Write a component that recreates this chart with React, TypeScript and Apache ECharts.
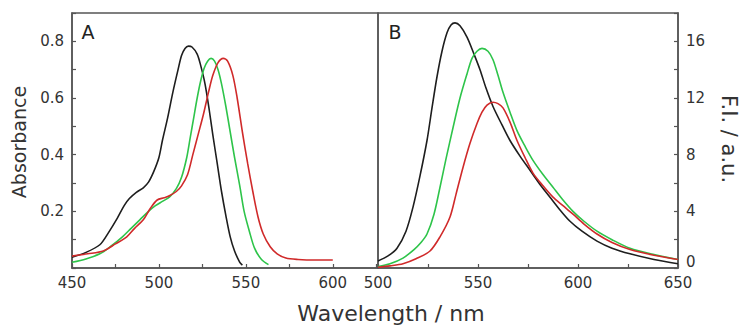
import React, { useEffect, useRef } from "react";
import * as echarts from "echarts";

// Panel A: absorbance
const absBlackX = [450, 458, 466, 471, 476, 480, 483, 487, 491, 494, 497, 500, 502, 505, 508, 511, 513, 515, 517, 519, 522, 524, 526.5, 529, 531, 533.5, 536, 538.5, 541, 543.5, 546.5, 548];
const absBlackY = [0.038, 0.055, 0.082, 0.125, 0.175, 0.22, 0.245, 0.267, 0.283, 0.303, 0.34, 0.39, 0.45, 0.53, 0.62, 0.7, 0.75, 0.775, 0.783, 0.78, 0.755, 0.715, 0.65, 0.555, 0.47, 0.37, 0.27, 0.185, 0.11, 0.06, 0.02, 0.01];
const absGreenX = [450, 458, 466, 472, 479, 484, 489, 494, 498, 502, 506, 510, 513, 516, 518, 520, 522, 524, 526, 528, 530, 532, 534, 536, 538.5, 541, 543.5, 546.5, 549, 552, 555, 559, 563];
const absGreenY = [0.02, 0.032, 0.05, 0.075, 0.11, 0.14, 0.17, 0.2, 0.22, 0.235, 0.25, 0.28, 0.32, 0.39, 0.46, 0.53, 0.6, 0.66, 0.705, 0.73, 0.74, 0.73, 0.7, 0.65, 0.57, 0.48, 0.39, 0.29, 0.2, 0.13, 0.07, 0.03, 0.012];
const absRedX = [450, 459, 468, 475, 481.5, 486, 491, 495, 499, 503, 506, 510, 513, 516.5, 519.5, 522.5, 525.5, 528.5, 531, 534, 537, 539.5, 542.5, 545, 548, 551, 554, 557, 560, 564, 568, 573, 580, 590, 600];
const absRedY = [0.042, 0.05, 0.06, 0.085, 0.11, 0.14, 0.17, 0.21, 0.24, 0.248, 0.255, 0.27, 0.29, 0.33, 0.4, 0.47, 0.54, 0.62, 0.68, 0.725, 0.74, 0.73, 0.68, 0.6, 0.48, 0.37, 0.27, 0.18, 0.12, 0.075, 0.05, 0.035, 0.03, 0.028, 0.028];

// Panel B: fluorescence intensity
const flBlackX = [500, 505, 509.5, 514, 517.5, 521, 524.5, 527, 529.5, 532, 534.5, 536.5, 538.5, 541, 544.5, 548, 551, 554, 557.5, 562, 566, 571, 576, 581, 586, 591, 596, 602, 609.5, 617, 626, 638, 650];
const flBlackY = [0.5, 0.85, 1.4, 2.6, 4.3, 6.5, 9.0, 11.3, 13.5, 15.3, 16.6, 17.15, 17.3, 17.1, 16.3, 15.1, 14.0, 12.7, 11.4, 10.1, 9.0, 7.9, 6.9, 5.9, 5.0, 4.1, 3.3, 2.6, 1.9, 1.4, 1.0, 0.6, 0.3];
const flGreenX = [500, 506, 512.5, 518, 521.5, 524.5, 528, 531, 534, 537.5, 541, 544.5, 547, 549.5, 552, 555, 557.5, 560, 562.5, 566, 569.5, 573.5, 577.5, 582.5, 587.5, 592.5, 597.5, 603, 609.5, 617, 626, 638, 650];
const flGreenY = [0.1, 0.3, 0.7, 1.3, 1.8, 2.4, 3.8, 5.7, 7.7, 9.9, 12.0, 13.7, 14.8, 15.3, 15.5, 15.3, 14.7, 13.6, 12.4, 11.0, 9.7, 8.6, 7.6, 6.6, 5.7, 4.8, 4.0, 3.3, 2.6, 2.0, 1.4, 0.95, 0.6];
const flRedX = [500, 506, 512.5, 519, 526, 531, 536, 539, 542.5, 546, 549.5, 552, 554.5, 557.5, 560, 562.5, 566, 569.5, 573.5, 577.5, 582.5, 587.5, 592.5, 597.5, 603, 609.5, 617, 626, 638, 650];
const flRedY = [0.05, 0.15, 0.3, 0.65, 1.2, 2.2, 3.6, 5.2, 7.1, 8.8, 10.2, 11.0, 11.5, 11.7, 11.6, 11.3, 10.3, 9.0, 7.8, 6.7, 5.8, 5.0, 4.4, 3.8, 3.1, 2.4, 1.8, 1.3, 0.9, 0.6];

const xTicksA = [450, 500, 550, 600];
const yTicksA = [0.2, 0.4, 0.6, 0.8];
const xTicksB = [500, 550, 600, 650];
const yTicksB = [0, 4, 8, 12, 16];

const colBlack = "#1e1e1e";
const colGreen = "#2ec44a";
const colRed = "#d02a2a";

const zip = (xs: number[], ys: number[]) => xs.map((x, i) => [x, ys[i]]);

const tickFont = { fontFamily: "DejaVu Sans", fontSize: 15, color: "#333" };
const axisLine = { show: true, lineStyle: { color: "#555", width: 1.5 } };
const axisTick = { show: true, inside: true, length: 4, lineStyle: { color: "#555", width: 1.2 } };

export default function App() {
  const ref = useRef<HTMLDivElement>(null);
  useEffect(() => {
    document.body.style.margin = "0";
    const chart = echarts.init(ref.current!, null, { renderer: "svg" });
    const line = (name: string, data: number[][], color: string, xi: number) => ({
      name,
      type: "line",
      xAxisIndex: xi,
      yAxisIndex: xi,
      data,
      showSymbol: false,
      smooth: 0.3,
      lineStyle: { color, width: 1.6 },
      z: 3,
    });
    chart.setOption({
      animation: false,
      backgroundColor: "#fff",
      grid: [
        { left: 72, top: 13, width: 306, height: 255, show: true, borderColor: "#555", borderWidth: 1.5 },
        { left: 378, top: 13, width: 300, height: 255, show: true, borderColor: "#555", borderWidth: 1.5 },
      ],
      xAxis: [
        {
          type: "value", gridIndex: 0, min: 450, max: 626, interval: 25,
          axisLine, axisTick, splitLine: { show: false },
          axisLabel: {
            ...tickFont, margin: 7, showMaxLabel: false,
            formatter: (v: number) => (xTicksA.includes(Math.round(v)) ? String(Math.round(v)) : ""),
          },
        },
        {
          type: "value", gridIndex: 1, min: 500, max: 650, interval: 25,
          axisLine, axisTick, splitLine: { show: false },
          axisLabel: {
            ...tickFont, margin: 7,
            formatter: (v: number) => (xTicksB.includes(Math.round(v)) ? String(Math.round(v)) : ""),
          },
        },
      ],
      yAxis: [
        {
          type: "value", gridIndex: 0, min: 0, max: 0.9, interval: 0.1,
          axisLine, axisTick, splitLine: { show: false },
          axisLabel: {
            ...tickFont, margin: 8,
            formatter: (v: number) => {
              const r = Math.round(v * 10) / 10;
              return yTicksA.some((t) => Math.abs(t - r) < 1e-6) ? r.toFixed(1) : "";
            },
          },
        },
        {
          type: "value", gridIndex: 1, position: "right", min: 0, max: 18, interval: 2,
          axisLine, axisTick, splitLine: { show: false },
          axisLabel: {
            ...tickFont, margin: 8,
            rich: { z: { ...tickFont, padding: [0, 0, 12, 0] } },
            formatter: (v: number) => {
              const r = Math.round(v);
              if (!yTicksB.includes(r)) return "";
              return r === 0 ? "{z|0}" : String(r);
            },
          },
        },
      ],
      series: [
        line("A black", zip(absBlackX, absBlackY), colBlack, 0),
        line("A green", zip(absGreenX, absGreenY), colGreen, 0),
        line("A red", zip(absRedX, absRedY), colRed, 0),
        line("B black", zip(flBlackX, flBlackY), colBlack, 1),
        line("B green", zip(flGreenX, flGreenY), colGreen, 1),
        line("B red", zip(flRedX, flRedY), colRed, 1),
      ],
      graphic: [
        {
          type: "text", x: 19, y: 142, rotation: Math.PI / 2,
          style: { text: "Absorbance", fontFamily: "DejaVu Sans", fontSize: 19, fill: "#333", align: "center", verticalAlign: "middle" },
        },
        {
          type: "text", x: 729, y: 139, rotation: -Math.PI / 2,
          style: { text: "F.I. / a.u.", fontFamily: "DejaVu Sans", fontSize: 21, fill: "#333", align: "center", verticalAlign: "middle" },
        },
        {
          type: "text", x: 391, y: 313,
          style: { text: "Wavelength / nm", fontFamily: "DejaVu Sans", fontSize: 22, fill: "#333", align: "center", verticalAlign: "middle" },
        },
        {
          type: "text", x: 88, y: 32,
          style: { text: "A", fontFamily: "DejaVu Sans", fontSize: 19, fill: "#222", align: "center", verticalAlign: "middle" },
        },
        {
          type: "text", x: 395, y: 32,
          style: { text: "B", fontFamily: "DejaVu Sans", fontSize: 19, fill: "#222", align: "center", verticalAlign: "middle" },
        },
      ],
    });
    return () => chart.dispose();
  }, []);
  return <div ref={ref} style={{ width: 740, height: 331 }} />;
}
